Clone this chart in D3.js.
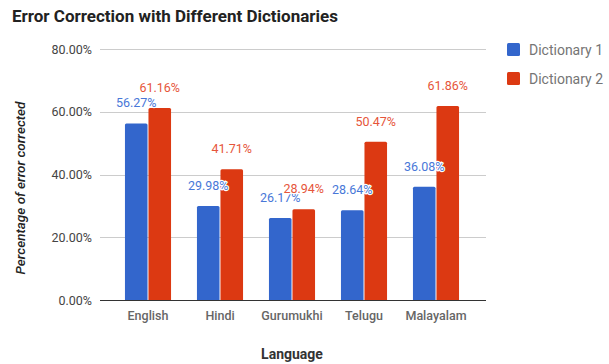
<!DOCTYPE html>
<html>
<head>
<meta charset="utf-8">
<script src="https://cdn.jsdelivr.net/npm/d3@7"></script>
<style>
  body { margin: 0; background: #fff; }
  text { font-family: Roboto, "Noto Sans", sans-serif; }
</style>
</head>
<body>
<div id="chart"></div>
<script>
// chart data
const languages = ["English", "Hindi", "Gurumukhi", "Telugu", "Malayalam"];
const seriesNames = ["Dictionary 1", "Dictionary 2"];
const dict1 = [56.27, 29.98, 26.17, 28.64, 36.08];
const dict2 = [61.16, 41.71, 28.94, 50.47, 61.86];
const yTicks = [0, 20, 40, 60, 80];

const colors = ["#3366cc", "#dc3912"];
const labelColors = ["#4877d8", "#e6553a"];

const W = 609, H = 364;
const svg = d3.select("#chart").append("svg")
  .attr("width", W).attr("height", H);

// plot area
const margin = { left: 100, right: 486, top: 49, bottom: 300 };

const y = d3.scaleLinear().domain([0, 80]).range([margin.bottom, margin.top]);
const x0 = d3.scaleBand().domain(languages).range([112, 472])
  .paddingInner(0.36).paddingOuter(0.18);
const x1 = d3.scaleBand().domain(seriesNames).range([0, x0.bandwidth()]).paddingInner(0.04);

// title
svg.append("text")
  .attr("x", 12).attr("y", 22)
  .style("font-size", "17px").style("font-weight", "bold").attr("fill", "#222")
  .text("Error Correction with Different Dictionaries");

// gridlines + y labels
const yAxis = svg.append("g").attr("class", "y-axis");
yAxis.selectAll("line").data(yTicks).join("line")
  .attr("x1", margin.left).attr("x2", margin.right)
  .attr("y1", d => Math.round(y(d)) + 0.5).attr("y2", d => Math.round(y(d)) + 0.5)
  .attr("stroke", d => d === 0 ? "#333" : "#ccc")
  .attr("stroke-width", 1);
yAxis.selectAll("text").data(yTicks).join("text")
  .attr("x", 92).attr("y", d => y(d) + 4.5)
  .attr("text-anchor", "end")
  .style("font-size", "12.5px").attr("fill", "#444")
  .text(d => d3.format(".2f")(d) + "%");

// bars
const rows = languages.map((l, i) => ({ lang: l, vals: [dict1[i], dict2[i]] }));
const groups = svg.append("g").selectAll("g").data(rows).join("g")
  .attr("transform", d => `translate(${x0(d.lang)},0)`);

groups.selectAll("path").data(d => d.vals.map((v, j) => ({ v, j })))
  .join("path")
  .attr("fill", d => colors[d.j])
  .attr("d", d => {
    const bx = x1(seriesNames[d.j]), bw = x1.bandwidth();
    const by = y(d.v), r = 1.5;
    return `M${bx},${margin.bottom}V${by + r}Q${bx},${by} ${bx + r},${by}H${bx + bw - r}Q${bx + bw},${by} ${bx + bw},${by + r}V${margin.bottom}Z`;
  });

// value labels (drawn after all bars so the halo covers neighbours)
const labels = svg.append("g");
rows.forEach(row => {
  row.vals.forEach((v, j) => {
    labels.append("text")
      .attr("x", x0(row.lang) + x1(seriesNames[j]) + x1.bandwidth() / 2)
      .attr("y", y(v) - 16)
      .attr("text-anchor", "middle")
      .style("font-size", "12.5px")
      .attr("fill", labelColors[j])
      .attr("stroke", "#fff").attr("stroke-width", 2.5)
      .attr("paint-order", "stroke")
      .text(d3.format(".2f")(v) + "%");
  });
});

// category labels
svg.append("g").selectAll("text").data(languages).join("text")
  .attr("x", d => x0(d) + x0.bandwidth() / 2)
  .attr("y", 320)
  .attr("text-anchor", "middle")
  .style("font-size", "12.5px").style("font-weight", "500").attr("fill", "#666")
  .text(d => d);

// axis titles
svg.append("text")
  .attr("x", 292).attr("y", 359)
  .attr("text-anchor", "middle")
  .style("font-size", "14px").style("font-weight", "bold").attr("fill", "#333")
  .text("Language");

svg.append("text")
  .attr("transform", "translate(25,188) rotate(-90)")
  .attr("text-anchor", "middle")
  .style("font-size", "13.5px").style("font-style", "italic").style("font-weight", "500").attr("fill", "#222")
  .text("Percentage of error corrected");

// legend
const legend = svg.append("g").attr("transform", "translate(507,43)");
const items = legend.selectAll("g").data(seriesNames).join("g")
  .attr("transform", (d, i) => `translate(0,${i * 29})`);
items.append("rect")
  .attr("width", 13).attr("height", 13).attr("rx", 1.5)
  .attr("fill", (d, i) => colors[i]);
items.append("text")
  .attr("x", 22).attr("y", 11.5)
  .style("font-size", "14px").attr("fill", "#757575")
  .text(d => d);
</script>
</body>
</html>
